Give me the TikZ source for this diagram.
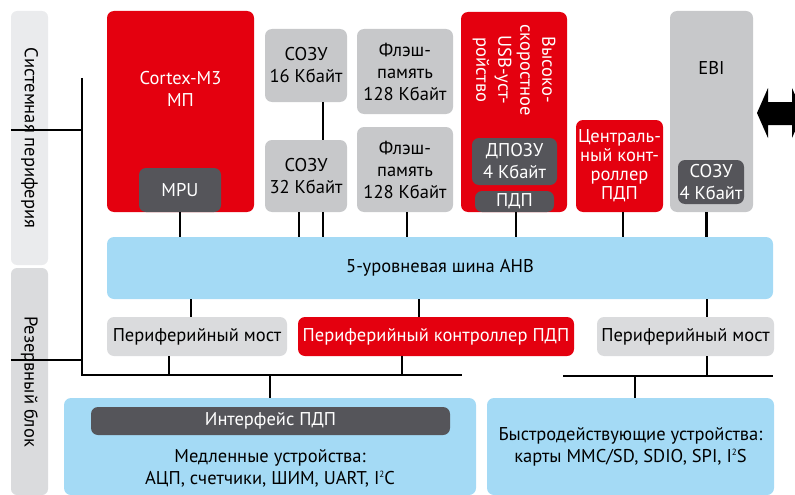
\documentclass[tikz,border=0pt]{standalone}
\usepackage{fontspec}
\setmainfont{PT Sans}
\usepackage{tikz}
\usetikzlibrary{positioning,calc}

\definecolor{mcured}{RGB}{228,0,15}
\definecolor{memgray}{RGB}{199,200,202}
\definecolor{brgray}{RGB}{218,219,221}
\definecolor{busblue}{RGB}{164,218,245}
\definecolor{darkblk}{RGB}{85,85,90}
\definecolor{sysgray}{RGB}{234,235,237}
\newcommand{\sqsup}{\raisebox{6.5pt}{\fontsize{9}{9}\selectfont 2}}

\begin{document}
\begin{tikzpicture}[
    x=1pt, y=-1pt,
    every node/.style={font=\fontsize{18.5}{22}\selectfont, inner sep=0pt},
    blk/.style={rectangle, rounded corners=7pt, align=center},
    redbox/.style={blk, fill=mcured, text=white},
    membox/.style={blk, fill=memgray},
    brbox/.style={blk, fill=brgray},
    busbox/.style={blk, fill=busblue},
    darkbox/.style={blk, fill=darkblk, text=white},
    side/.style={blk, rounded corners=6pt, minimum width=37, rotate=-90},
    wire/.style={line width=2.2pt}
]
\useasboundingbox (0,0) rectangle (795,495);
\clip (0,0) rectangle (795,495);
% Боковые панели
\node[side, fill=sysgray, minimum width=254, minimum height=37] (sysper) at (29.5,138) {Системная периферия};
\node[side, fill=brgray, minimum width=227, minimum height=37] (reserve) at (29.5,381.5) {Резервный блок};
% Верхний ряд
\node[redbox, minimum width=147, minimum height=201] (cpu) at (180.5,111.5) {};
\node (cpulbl) at (180.5,89) [text=white, align=center] {Cortex-M3\\МП};
\node[darkbox, minimum width=82, minimum height=44] (mpu) at (180,190) {MPU};
\node[membox, minimum width=82, minimum height=73] (sram16) at (306,65.5) {СОЗУ\\16 Кбайт};
\node[membox, minimum width=82, minimum height=72] (sram32) at (306,176) {СОЗУ\\32 Кбайт};
\node[membox, minimum width=96, minimum height=85] (flash1) at (405,71.5) {Флэш-\\память\\128 Кбайт};
\node[membox, minimum width=96, minimum height=85] (flash2) at (405,169.5) {Флэш-\\память\\128 Кбайт};
\node[redbox, minimum width=106, minimum height=200] (usb) at (514,112) {};
\node (usblbl) at (514,70) [text=white, align=center, rotate=-90] {Высоко-\\скоростное\\USB-уст-\\ройство};
\node[darkbox, minimum width=85, minimum height=47] (dpozu) at (514.5,161.5) {ДПОЗУ\\4 Кбайт};
\node[darkbox, minimum width=79, minimum height=21] (usbdma) at (514.5,201.5) {ПДП};
\node[redbox, minimum width=87, minimum height=92, font=\fontsize{18.5}{19}\selectfont] (cdma) at (619.5,166) {Централь-\\ный конт-\\роллер\\ПДП};
\node[membox, minimum width=83, minimum height=201] (ebi) at (711.5,111.5) {};
\node (ebilbl) at (711.5,68) {EBI};
\node[darkbox, minimum width=66, minimum height=44] (ebiram) at (711,182) {СОЗУ\\4 Кбайт};
% Шина и мосты
\node[busbox, minimum width=666, minimum height=62] (ahb) at (440,268) {5-уровневая шина AHB};
\node[brbox, minimum width=180, minimum height=39] (bridgeL) at (197,336.5) {Периферийный мост};
\node[redbox, minimum width=276, minimum height=39] (pdma) at (436,336.5) {Периферийный контроллер ПДП};
\node[brbox, minimum width=177, minimum height=39] (bridgeR) at (685.5,336.5) {Периферийный мост};
% Нижний ряд
\node[busbox, minimum width=412, minimum height=97] (slow) at (270,446.5) {};
\node (slowlbl) at (270,468) [align=center] {Медленные устройства:\\АЦП, счетчики, ШИМ, UART, I\sqsup C};
\node[darkbox, minimum width=359, minimum height=28] (dmaif) at (270.5,421) {Интерфейс ПДП};
\node[busbox, minimum width=287, minimum height=97] (fast) at (630.5,446.5) {Быстродействующие устройства:\\карты MMC/SD, SDIO, SPI, I\sqsup S};
% Точки шин
\coordinate (ltop) at (82,78);
\coordinate (lbot) at (82,375);
\coordinate (lend) at (462,375);
\coordinate (rbeg) at (563,376);
\coordinate (rend) at (773,376);
% Линии
\draw[wire] (ltop) -- (lbot) -- (lend);
\draw[wire] (rbeg) -- (rend);
\draw[wire] (sysper.south |- 0,130) -- (ltop |- 0,130);
\draw[wire] (reserve.south |- 0,360) -- (ltop |- 0,360);
\draw[wire] (mpu.south) -- (mpu |- ahb.north);
\draw[wire] ([xshift=17]sram16.south) -- ([xshift=17]sram32.north);
\draw[wire] ([xshift=17]sram32.south) -- ([xshift=17]sram32.south |- ahb.north);
\draw[wire] ([xshift=-7]sram32.south) -- ([xshift=-7]sram32.south |- ahb.north);
\draw[wire] ([xshift=2]flash2.south) -- ([xshift=2]flash2.south |- ahb.north);
\draw[wire] ([xshift=1.5]usbdma.south) -- ([xshift=1.5]usbdma.south |- ahb.north);
\draw[wire] ([xshift=3.5]cdma.south) -- ([xshift=3.5]cdma.south |- ahb.north);
\draw[wire] ([xshift=-5]ebi.south) -- ([xshift=-5]ebi.south |- ahb.north);
\draw[wire] ([xshift=-6]ahb.south -| bridgeL) -- ([xshift=-6]bridgeL.north);
\draw[wire] (ahb.south -| 419,0) -- (pdma.north -| 419,0);
\draw[wire] (ahb.south -| 707,0) -- (bridgeR.north -| 707,0);
\draw[wire] ([xshift=-28]bridgeL.south) -- ([xshift=-28]bridgeL.south |- lbot);
\draw[wire] ([xshift=-34]pdma.south) -- ([xshift=-34]pdma.south |- lbot);
\draw[wire] (slow.north |- lbot) -- (slow.north);
\draw[wire] (bridgeR.south -| 707,0) -- (rend -| 707,0);
\draw[wire] (fast.north -| 635,0) -- (rend -| 635,0);
% Внешняя шина
\coordinate (ext) at (757,113);
\fill (ext) -- ++(11,-25) -- ++(0,14) -- ++(24,0) -- ++(0,-14) -- ++(11,25)
  -- ++(-11,25) -- ++(0,-13) -- ++(-24,0) -- ++(0,13) -- cycle;
\end{tikzpicture}
\end{document}
